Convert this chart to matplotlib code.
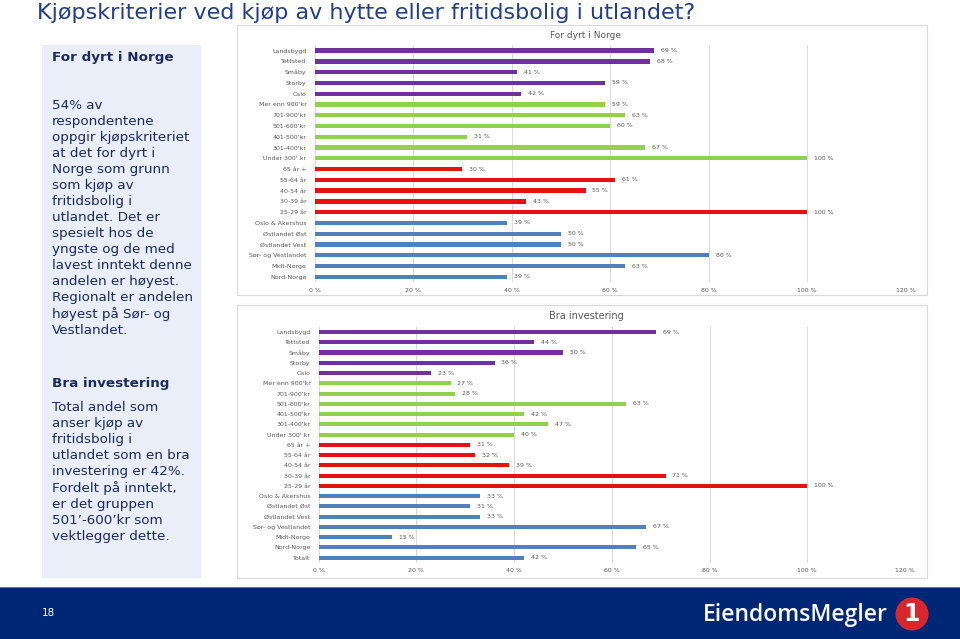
import matplotlib.pyplot as plt
from matplotlib.patches import Rectangle, Circle

W, H = 960, 639

# ---- data ----
cats_dyrt = ["Landsbygd", "Tettsted", "Småby", "Storby", "Oslo",
             "Mer enn 900'kr", "701-900'kr", "501-600'kr", "401-500'kr", "301-400'kr", "Under 300' kr",
             "65 år +", "55-64 år", "40-54 år", "30-39 år", "25-29 år",
             "Oslo & Akershus", "Østlandet Øst", "Østlandet Vest", "Sør- og Vestlandet", "Midt-Norge", "Nord-Norge"]
vals_dyrt = [69, 68, 41, 59, 42,
             59, 63, 60, 31, 67, 100,
             30, 61, 55, 43, 100,
             39, 50, 50, 80, 63, 39]
groups_dyrt = ["bosted"] * 5 + ["inntekt"] * 6 + ["alder"] * 5 + ["region"] * 6

cats_inv = ["Landsbygd", "Tettsted", "Småby", "Storby", "Oslo",
            "Mer enn 900'kr", "701-900'kr", "501-600'kr", "401-500'kr", "301-400'kr", "Under 300' kr",
            "65 år +", "55-64 år", "40-54 år", "30-39 år", "25-29 år",
            "Oslo & Akershus", "Østlandet Øst", "Østlandet Vest", "Sør- og Vestlandet", "Midt-Norge", "Nord-Norge", "Totalt"]
vals_inv = [69, 44, 50, 36, 23,
            27, 28, 63, 42, 47, 40,
            31, 32, 39, 71, 100,
            33, 31, 33, 67, 15, 65, 42]
groups_inv = ["bosted"] * 5 + ["inntekt"] * 6 + ["alder"] * 5 + ["region"] * 7

x_ticks = [0, 20, 40, 60, 80, 100, 120]

group_colors = {"bosted": "#7030A0", "inntekt": "#92D050", "alder": "#E81010", "region": "#4F81BD"}

title = "Kjøpskriterier ved kjøp av hytte eller fritidsbolig i utlandet?"
head1 = "For dyrt i Norge"
body1 = ("54% av\nrespondentene\noppgir kjøpskriteriet\nat det for dyrt i\nNorge som grunn\n"
         "som kjøp av\nfritidsbolig i\nutlandet. Det er\nspesielt hos de\nyngste og de med\n"
         "lavest inntekt denne\nandelen er høyest.\nRegionalt er andelen\nhøyest på Sør- og\nVestlandet.")
head2 = "Bra investering"
body2 = ("Total andel som\nanser kjøp av\nfritidsbolig i\nutlandet som en bra\ninvestering er 42%.\n"
         "Fordelt på inntekt,\ner det gruppen\n501’-600’kr som\nvektlegger dette.")

navy = "#1B2A5E"
label_gray = "#595959"


def fx(px):
    return px / W


def fy(py):
    return 1 - py / H


def axes_px(fig, x0, y0, x1, y1):
    # pixel box (top-left origin) -> figure axes
    return fig.add_axes([fx(x0), fy(y1), fx(x1) - fx(x0), (y1 - y0) / H])


def bar_chart(fig, box, area, cats, vals, groups, chart_title, title_y, title_size):
    bx0, by0, bx1, by1 = box
    fig.patches.append(Rectangle((fx(bx0), fy(by1)), fx(bx1) - fx(bx0), (by1 - by0) / H,
                                 transform=fig.transFigure, facecolor="white",
                                 edgecolor="#D9D9D9", lw=0.8, zorder=-1))
    fig.text(fx((bx0 + bx1) / 2 + 4), fy(title_y), chart_title, ha="center", va="center",
             fontsize=title_size, color=label_gray)
    ax = axes_px(fig, *area)
    ax.set_facecolor("none")
    n = len(cats)
    pos = list(range(n))
    colors = [group_colors[g] for g in groups]
    ax.barh(pos, vals, height=0.4, color=colors, zorder=3)
    for p, v in zip(pos, vals):
        ax.annotate(f"{v} %", (v, p), xytext=(5, 0), textcoords="offset points",
                    va="center", ha="left", fontsize=4.5, color=label_gray)
    ax.set_ylim(n - 0.5, -0.5)
    ax.set_xlim(0, 120)
    ax.set_yticks(pos)
    ax.set_yticklabels(cats, fontsize=4.5, color=label_gray)
    ax.set_xticks(x_ticks)
    ax.set_xticklabels([f"{t} %" for t in x_ticks], fontsize=4.5, color=label_gray)
    ax.tick_params(length=0, pad=6)
    ax.tick_params(axis="x", pad=4)
    ax.grid(axis="x", color="#D9D9D9", lw=0.7, zorder=0)
    for s in ax.spines.values():
        s.set_visible(False)
    return ax


fig = plt.figure(figsize=(9.6, 6.39), dpi=100)
fig.patch.set_facecolor("white")

# slide title
fig.text(fx(37), fy(13), title, ha="left", va="center", fontsize=16, color="#233F8C")

# left text panel
fig.patches.append(Rectangle((fx(42), fy(578)), fx(201) - fx(42), (578 - 45) / H,
                             transform=fig.transFigure, facecolor="#E9EEF8", edgecolor="none", zorder=-1))
fig.text(fx(52), fy(58), head1, ha="left", va="center", fontsize=9.7, fontweight="bold", color=navy)
fig.text(fx(52), fy(99), body1, ha="left", va="top", fontsize=9.7, color=navy, linespacing=1.3)
fig.text(fx(52), fy(383), head2, ha="left", va="center", fontsize=9.7, fontweight="bold", color=navy)
fig.text(fx(52), fy(401), body2, ha="left", va="top", fontsize=9.7, color=navy, linespacing=1.3)

# charts
bar_chart(fig, (237, 25, 927, 295), (314.6, 45.2, 905.7, 282.2),
          cats_dyrt, vals_dyrt, groups_dyrt, "For dyrt i Norge", 35, 6.5)
bar_chart(fig, (237, 305, 927, 578), (318.6, 326.9, 905, 562.8),
          cats_inv, vals_inv, groups_inv, "Bra investering", 316, 7)

# footer band
fig.patches.append(Rectangle((0, 0), 1, fy(588), transform=fig.transFigure,
                             facecolor="#002776", edgecolor="none", zorder=1))
fig.patches.append(Rectangle((0, fy(588)), 1, 1.5 / H, transform=fig.transFigure,
                             facecolor="#5A74A8", edgecolor="none", zorder=1))
fig.text(fx(48), fy(613), "18", ha="center", va="center", fontsize=7.5, color="white", zorder=2)
fig.text(fx(888), fy(615), "EiendomsMegler", ha="right", va="center", fontsize=16.5,
         color="white", fontfamily="Open Sans", fontweight="semibold", zorder=2)
fig.patches.append(Circle((912 / 100, (H - 614) / 100), 0.165, transform=fig.dpi_scale_trans,
                          facecolor="#D7262E", edgecolor="none", zorder=2))
fig.text(fx(912), fy(614), "1", ha="center", va="center", fontsize=17, fontweight="bold",
         color="white", zorder=3)

fig.savefig("out.png", dpi=100)
